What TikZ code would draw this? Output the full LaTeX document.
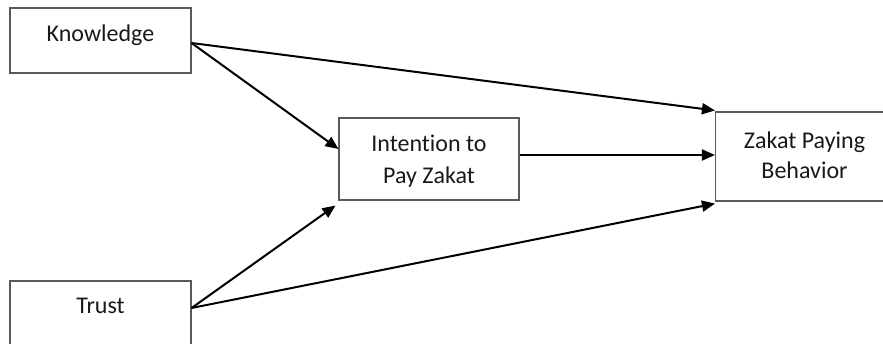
\documentclass[tikz,border=0pt]{standalone}
\usepackage{fontspec}
\setmainfont{Carlito}[Ligatures={NoCommon}]
\usetikzlibrary{arrows.meta}
\tikzset{
  boxnode/.style={draw=black!65, line width=1.1pt, rectangle, inner sep=0pt},
  lbl/.style={anchor=base, inner sep=0pt, font=\fontsize{24}{29}\selectfont, text=black!90},
  link/.style={line width=2pt, -{Triangle[length=13pt,width=11pt]}}
}
\begin{document}
\begin{tikzpicture}[x=1pt,y=-1pt]
\useasboundingbox (0,0) rectangle (883,343);
\clip (0,0) rectangle (883,343);
% boxes
\node[boxnode, minimum width=181pt, minimum height=65pt] (k) at (100.5,40.5) {};
\node[boxnode, minimum width=181pt, minimum height=65pt] (t) at (100.5,313.5) {};
\node[boxnode, minimum width=180pt, minimum height=82pt] (i) at (429,159) {};
\node[boxnode, minimum width=178pt, minimum height=89pt] (z) at (804.5,156.5) {};
% labels
\node[lbl] (kl) at (100.5,41) {Knowledge};
\node[lbl] (tl) at (100.5,313) {Trust};
\node[lbl] (il1) at (429,151) {Intention to};
\node[lbl] (il2) at (429,183) {Pay Zakat};
\node[lbl] (zl1) at (804.5,148) {Zakat Paying};
\node[lbl] (zl2) at (804.5,178) {Behavior};
% connectors
\draw[link] ([yshift=-2.5pt]k.east) -- ([yshift=10pt]i.west);
\draw[link] ([yshift=-2.5pt]k.east) -- ([yshift=1pt]z.north west);
\draw[link] ([yshift=5.5pt]t.east) -- ([xshift=-3pt,yshift=-5pt]i.south west);
\draw[link] ([yshift=5.5pt]t.east) -- ([yshift=-2pt]z.south west);
\draw[link] ([yshift=4pt]i.east) -- ([yshift=4pt]i.east -| z.west);
\end{tikzpicture}
\end{document}
